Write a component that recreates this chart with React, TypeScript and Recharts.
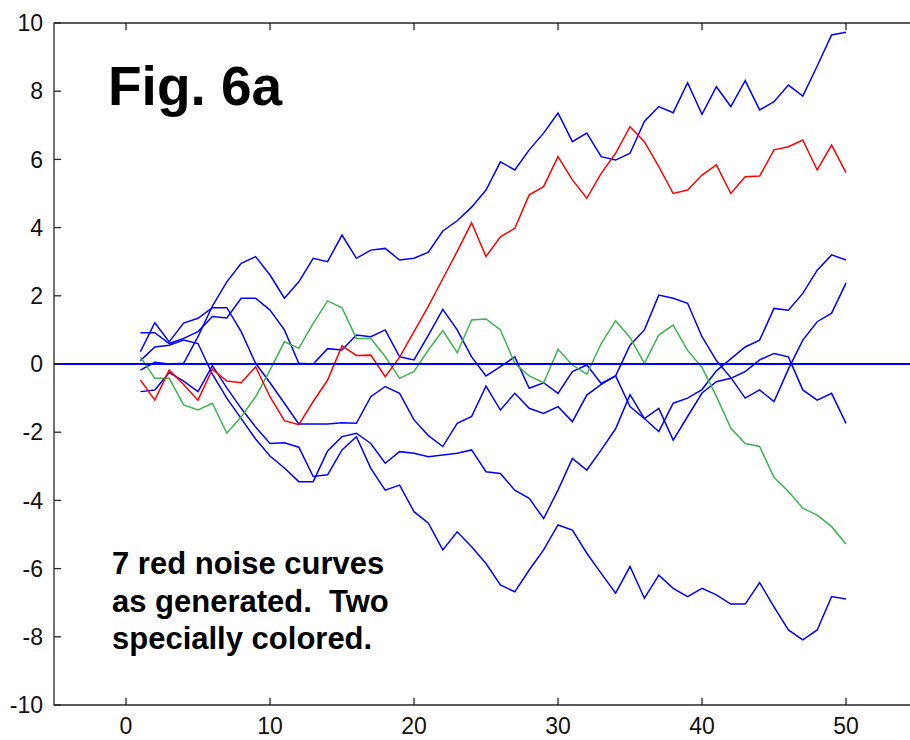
import { Line, LineChart, ReferenceLine, XAxis, YAxis } from "recharts";

// 7 random-walk ("red noise") curves, 50 steps each
const blue1 = [
  -0.18, 0.05, 0.0, 0.02, 0.8, 1.7, 2.41, 2.95, 3.15, 2.61,
  1.93, 2.41, 3.1, 3.0, 3.78, 3.1, 3.34, 3.39, 3.05, 3.1,
  3.28, 3.9, 4.2, 4.6, 5.1, 5.93, 5.69, 6.28, 6.77, 7.36,
  6.52, 6.77, 6.08, 5.98, 6.18, 7.11, 7.55, 7.37, 8.25, 7.32,
  8.13, 7.55, 8.31, 7.45, 7.69, 8.18, 7.86, 8.74, 9.65, 9.73,
];
const blue2 = [
  0.1, 0.5, 0.55, 0.7, 0.6, -0.3, -1.0, -1.6, -2.2, -2.7,
  -3.05, -3.45, -3.45, -2.55, -2.13, -2.03, -2.33, -2.91, -2.57, -2.62,
  -2.72, -2.67, -2.62, -2.52, -3.16, -3.21, -3.7, -3.94, -4.53, -3.7,
  -2.77, -3.11, -2.52, -1.9, -0.9, -1.6, -1.98, -1.15, -1.0, -0.75,
  -0.2, 0.15, 0.5, 0.7, 1.63, 1.58, 2.07, 2.75, 3.2, 3.05,
];
const blue3 = [
  0.92, 0.92, 0.6, 0.75, 0.95, 1.39, 1.35, 1.93, 1.93, 1.58,
  1.0, 0.02, 0.0, 0.45, 0.41, 0.85, 0.8, 1.0, 0.21, 0.12,
  0.85, 1.6, 1.0, 0.21, -0.35, -0.08, 0.21, -0.71, -0.55, -0.86,
  -0.22, -0.03, -0.57, -0.35, 0.55, 1.0, 2.02, 1.93, 1.78, 0.8,
  0.1, -0.4, -1.0, -0.76, -1.1, -0.15, 0.7, 1.24, 1.49, 2.37,
];
const blue4 = [
  0.36, 1.21, 0.65, 1.2, 1.34, 1.65, 1.65, 0.95, 0.02, -0.55,
  -1.15, -1.76, -1.76, -1.76, -1.72, -1.74, -0.96, -0.66, -0.86, -1.64,
  -2.1, -2.42, -1.74, -1.54, -0.65, -1.35, -0.86, -1.3, -1.45, -1.25,
  -1.69, -0.91, -0.6, -0.35, -1.25, -1.6, -1.3, -2.23, -1.54, -0.85,
  -0.52, -0.42, -0.22, 0.12, 0.31, 0.21, -0.76, -1.06, -0.86, -1.74,
];
const blue5 = [
  -0.81, -0.76, -0.25, -0.5, -0.81, -0.05, -0.7, -1.3, -1.85, -2.33,
  -2.31, -2.44, -3.3, -3.25, -2.52, -2.13, -3.06, -3.7, -3.55, -4.33,
  -4.67, -5.45, -4.92, -5.36, -5.85, -6.48, -6.68, -6.04, -5.45, -4.72,
  -4.87, -5.55, -6.14, -6.72, -5.94, -6.87, -6.19, -6.58, -6.82, -6.58,
  -6.77, -7.04, -7.04, -6.41, -7.12, -7.8, -8.09, -7.8, -6.82, -6.89,
];
const red = [
  -0.47, -1.06, -0.18, -0.6, -1.06, -0.15, -0.5, -0.55, -0.08, -0.96,
  -1.66, -1.78, -1.1, -0.47, 0.53, 0.25, 0.26, -0.37, 0.2, 0.95,
  1.7, 2.5, 3.3, 4.14, 3.15, 3.73, 3.98, 4.96, 5.2, 6.08,
  5.4, 4.86, 5.59, 6.18, 6.96, 6.52, 5.79, 5.0, 5.1, 5.54,
  5.84, 5.0, 5.49, 5.51, 6.28, 6.37, 6.57, 5.69, 6.42, 5.61,
];
const green = [
  0.21, -0.42, -0.42, -1.2, -1.35, -1.15, -2.03, -1.55, -0.96, -0.18,
  0.65, 0.46, 1.19, 1.85, 1.65, 0.75, 0.75, 0.22, -0.42, -0.22,
  0.41, 0.98, 0.33, 1.29, 1.32, 1.0, 0.02, -0.35, -0.55, 0.43,
  -0.03, -0.3, 0.6, 1.27, 0.78, 0.02, 0.85, 1.14, 0.4, -0.1,
  -0.95, -1.88, -2.33, -2.42, -3.32, -3.74, -4.23, -4.43, -4.77, -5.28,
];

const xTicks = [0, 10, 20, 30, 40, 50];
const yTicks = [-10, -8, -6, -4, -2, 0, 2, 4, 6, 8, 10];

const BLUE = "#0000ff";
const RED = "#ff0000";
const GREEN = "#3cb450";
const AXIS = "#262626";
const FONT = "'Liberation Sans', Arial, sans-serif";

const rows = blue1.map((v, i) => ({
  step: i + 1,
  blue1: v,
  blue2: blue2[i],
  blue3: blue3[i],
  blue4: blue4[i],
  blue5: blue5[i],
  red: red[i],
  green: green[i],
}));

const series = [
  { key: "blue1", color: BLUE },
  { key: "blue2", color: BLUE },
  { key: "blue3", color: BLUE },
  { key: "blue4", color: BLUE },
  { key: "blue5", color: BLUE },
  { key: "green", color: GREEN },
  { key: "red", color: RED },
];

const tickStyle = { fontSize: 23, fill: "#111", fontFamily: FONT };

export default function App() {
  return (
    <div
      style={{
        position: "absolute",
        left: 0,
        top: 0,
        width: 910,
        height: 740,
        overflow: "hidden",
        background: "#fff",
      }}
    >
      <LineChart
        width={920}
        height={740}
        data={rows}
        margin={{ top: 0, right: 2, bottom: 0, left: 0 }}
      >
        <XAxis
          xAxisId="bottom"
          dataKey="step"
          type="number"
          domain={[-5, 55]}
          ticks={xTicks}
          orientation="bottom"
          height={35}
          stroke={AXIS}
          strokeWidth={1.3}
          tickSize={-7}
          tickMargin={20}
          tick={tickStyle}
        />
        <XAxis
          xAxisId="top"
          dataKey="step"
          type="number"
          domain={[-5, 55]}
          ticks={xTicks}
          orientation="top"
          height={23}
          stroke={AXIS}
          strokeWidth={1.3}
          tickSize={-7}
          tickFormatter={() => ""}
        />
        <YAxis
          type="number"
          domain={[-10, 10]}
          ticks={yTicks}
          width={54}
          stroke={AXIS}
          strokeWidth={1.3}
          tickSize={-7}
          tickMargin={18}
          tick={tickStyle}
        />
        {series.map((s) => (
          <Line
            key={s.key}
            xAxisId="bottom"
            type="linear"
            dataKey={s.key}
            stroke={s.color}
            strokeWidth={1.5}
            dot={false}
            isAnimationActive={false}
          />
        ))}
        <ReferenceLine xAxisId="bottom" y={0} stroke={BLUE} strokeWidth={2} />
      </LineChart>

      <div
        style={{
          position: "absolute",
          left: 108,
          top: 59,
          fontFamily: FONT,
          fontWeight: "bold",
          fontSize: 55,
          lineHeight: "55px",
          color: "#000",
          whiteSpace: "pre",
        }}
      >
        Fig. 6a
      </div>
      <div
        style={{
          position: "absolute",
          left: 112,
          top: 545,
          fontFamily: FONT,
          fontWeight: "bold",
          fontSize: 31,
          lineHeight: "37.5px",
          color: "#000",
          whiteSpace: "pre",
        }}
      >
        {"7 red noise curves\nas generated.  Two\nspecially colored."}
      </div>
    </div>
  );
}
